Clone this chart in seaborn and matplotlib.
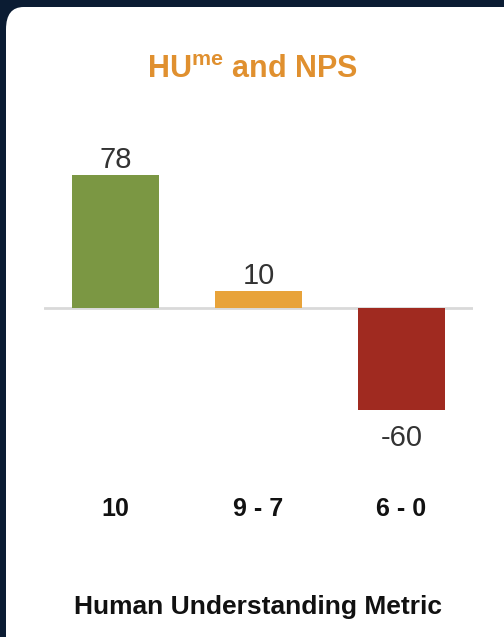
import matplotlib
matplotlib.use("Agg")
import matplotlib.pyplot as plt
from matplotlib.patches import FancyBboxPatch
import seaborn as sns
import pandas as pd

# data
categories = ["10", "9 - 7", "6 - 0"]
values = [78, 10, -60]
bar_colors = ["#7b9743", "#e8a33a", "#a02a20"]

sns.set_theme(style="white")
plt.rcParams['font.family'] = ['Liberation Sans', 'DejaVu Sans']
plt.rcParams['mathtext.fontset'] = 'custom'
plt.rcParams['mathtext.rm'] = 'Liberation Sans'
plt.rcParams['mathtext.bf'] = 'Liberation Sans:bold'

df = pd.DataFrame({'group': categories, 'score': values})

fig = plt.figure(figsize=(5.04, 6.37), dpi=100)
fig.patch.set_facecolor("#0b1c33")

# white rounded card behind everything
card = FancyBboxPatch((6 / 504, -0.05), 1.2, 1.05 - 7 / 637,
                      boxstyle="round,pad=0,rounding_size=0.035",
                      transform=fig.transFigure, facecolor="white",
                      edgecolor="none", zorder=-5)
fig.patches.append(card)

ax = fig.add_axes([44 / 504, 1 - 444.4 / 637, 429 / 504, 306.9 / 637])
ax.set_facecolor("none")

sns.barplot(data=df, x='group', y='score', hue='group', palette=bar_colors,
            order=categories, width=0.61, legend=False, ax=ax, saturation=1,
            linewidth=0)

ax.axhline(0, color="#d9d9d9", lw=2, zorder=0)
ax.set_xlim(-0.5, 2.5)
ax.set_ylim(-80, 100)

for i, v in enumerate(values):
    if v >= 0:
        ax.annotate(str(v), (i, v), xytext=(0, 1), textcoords="offset points",
                    ha="center", va="bottom", fontsize=21, color="#333333")
    else:
        ax.annotate(str(v), (i, v), xytext=(0, -10), textcoords="offset points",
                    ha="center", va="top", fontsize=21, color="#333333")

ax.set_yticks([])
ax.set_ylabel("")
ax.tick_params(axis='x', length=0, pad=38, labelsize=18)
for lbl in ax.get_xticklabels():
    lbl.set_fontweight("bold")
    lbl.set_color("#111111")
ax.set_xlabel("Human Understanding Metric", fontsize=19, fontweight="bold",
              color="#111111", labelpad=53)
sns.despine(ax=ax, left=True, bottom=True)

fig.text(0.5, 1 - 70 / 637, r"HU$^{\mathbf{me}}$ and NPS", ha="center", va="center",
         fontsize=22, fontweight="bold", color="#e0902f")

fig.savefig("out.png", dpi=100, facecolor=fig.get_facecolor())
